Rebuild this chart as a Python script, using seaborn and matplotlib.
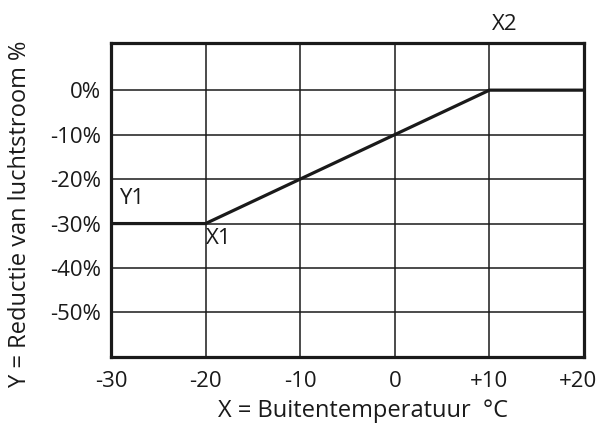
import matplotlib
matplotlib.use("Agg")
import matplotlib.pyplot as plt
import matplotlib.transforms as mtransforms
import seaborn as sns
import pandas as pd

# Curve of airflow reduction versus outside temperature
temperature = [-30, -20, 10, 20]
reduction = [-30, -30, 0, 0]

x_ticks = [-30, -20, -10, 0, 10, 20]
x_tick_labels = ["-30", "-20", "-10", "0", "+10", "+20"]
y_ticks = [0, -10, -20, -30, -40, -50]
y_tick_labels = ["0%", "-10%", "-20%", "-30%", "-40%", "-50%"]

# Point labels: (text, x, y)
point_labels = [("Y1", -29.2, -24.4), ("X1", -20.0, -33.4), ("X2", 10.3, 14.7)]

sns.set_theme(style="white")
plt.rcParams["font.family"] = ["Open Sans", "DejaVu Sans"]

ink = "#1a1a1a"
fs = 16
fs_title = 17
df = pd.DataFrame({"temp": temperature, "red": reduction})

fig = plt.figure(figsize=(5.99, 4.28), dpi=100)
ax = fig.add_axes([0.1853, 0.166, 0.7897, 0.7335])

sns.lineplot(data=df, x="temp", y="red", ax=ax, color=ink, linewidth=2.3,
             zorder=3, sort=False)

ax.set_xlim(-30, 20)
ax.set_ylim(-60, 10.6)
ax.set_xticks(x_ticks)
ax.set_xticklabels(x_tick_labels)
ax.set_yticks(y_ticks)
ax.set_yticklabels(y_tick_labels)
ax.tick_params(axis="both", length=0, labelsize=fs, colors=ink)
ax.tick_params(axis="x", pad=10)
ax.tick_params(axis="y", pad=7)

# keep the last x label inside the figure edge
last = ax.get_xticklabels()[-1]
last.set_transform(last.get_transform() +
                   mtransforms.ScaledTranslation(-6 / 100, 0, fig.dpi_scale_trans))

ax.grid(True, color=ink, linewidth=1.1)
for side in ax.spines.values():
    side.set_color(ink)
    side.set_linewidth(2.3)

ax.set_xlabel("")
ax.set_ylabel("")

for text, x, y in point_labels:
    ax.text(x, y, text, fontsize=fs, color=ink, ha="left", va="center",
            clip_on=False)

fig.text(0.606, 0.04, "X = Buitentemperatuur  °C", fontsize=fs_title, color=ink,
         ha="center", va="center")
fig.text(0.033, 0.5, "Y = Reductie van luchtstroom %", fontsize=fs_title, color=ink,
         ha="center", va="center", rotation=90)

fig.savefig("out.png", dpi=100)
